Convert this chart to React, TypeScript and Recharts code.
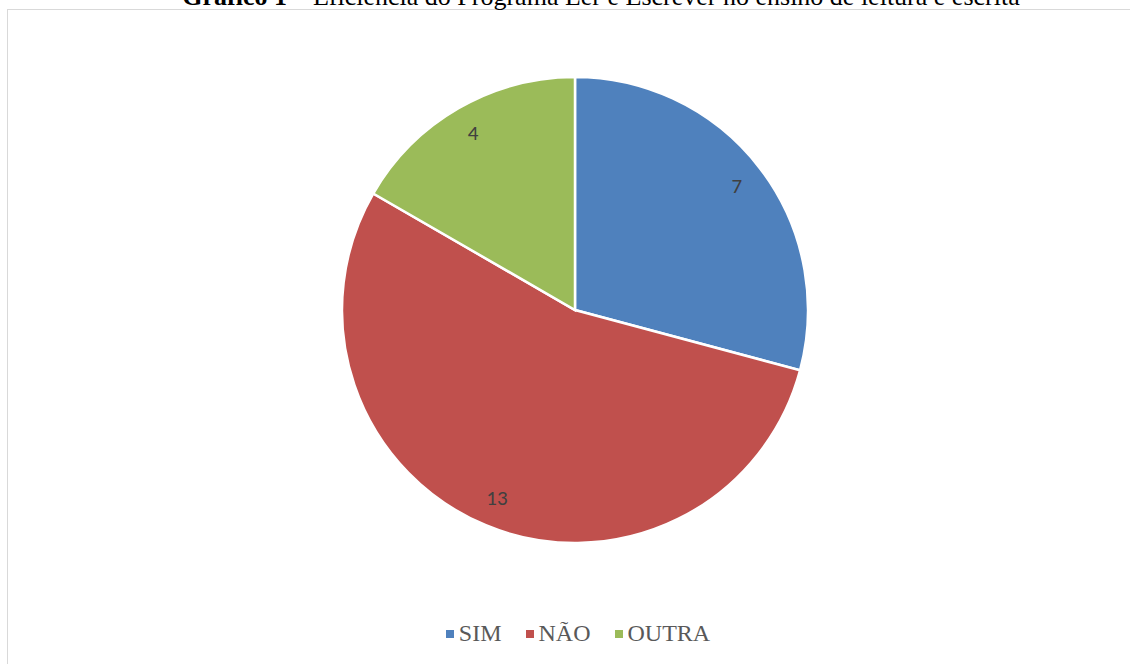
import { PieChart, Pie, Cell, Legend } from "recharts";

const categories = ["SIM", "NÃO", "OUTRA"];
const values = [7, 13, 4];
const COLORS = ["#4f81bd", "#c0504d", "#9bbb59"];

const rows = categories.map((name, i) => ({ name, value: values[i] }));

const RAD = Math.PI / 180;

function renderLabel(p: any) {
  const r = p.outerRadius * 0.875;
  const x = p.cx + r * Math.cos(-p.midAngle * RAD);
  const y = p.cy + r * Math.sin(-p.midAngle * RAD);
  return (
    <text x={x} y={y} fill="#404040" fontSize={21} fontFamily="Carlito, 'Liberation Sans', Arial, sans-serif"
      textAnchor="middle" dominantBaseline="central">
      {p.value}
    </text>
  );
}

function LegendBox() {
  return (
    <div style={{ display: "flex", justifyContent: "center", gap: 24, fontFamily: "'Liberation Serif', 'Times New Roman', serif", fontSize: 24, color: "#595959", paddingLeft: 26 }}>
      {categories.map((c, i) => (
        <div key={c} style={{ display: "flex", alignItems: "center" }}>
          <span style={{ display: "inline-block", width: 8, height: 8, background: COLORS[i], marginRight: 5 }} />
          <span>{c}</span>
        </div>
      ))}
    </div>
  );
}

export default function App() {
  return (
    <div style={{ position: "absolute", left: 0, top: 0, width: 1130, height: 664, overflow: "hidden", background: "#fff" }}>
      <div style={{ position: "absolute", left: 7, top: 9, width: 1122, height: 700, borderTop: "1px solid #d9d9d9", borderLeft: "1px solid #d9d9d9" }} />
      <div style={{ position: "absolute", left: 0, top: -18, width: 1202, lineHeight: 1.15, textAlign: "center", fontFamily: "'Liberation Serif', 'Times New Roman', serif", fontSize: 26, color: "#000", whiteSpace: "nowrap" }}>
        <b>Gráfico 1</b> – Eficiência do Programa Ler e Escrever no ensino de leitura e escrita
      </div>
      <PieChart width={1130} height={664} style={{ position: "absolute", left: 0, top: 0 }}>
        <Pie data={rows} dataKey="value" nameKey="name" cx={570} cy={305} outerRadius={233}
          startAngle={90} endAngle={-270} stroke="#fff" strokeWidth={2.5}
          label={renderLabel} labelLine={false} isAnimationActive={false}>
          {rows.map((_, i) => <Cell key={i} fill={COLORS[i]} />)}
        </Pie>
        <Legend verticalAlign="bottom" content={() => <LegendBox />} wrapperStyle={{ bottom: 17 }} />
      </PieChart>
    </div>
  );
}
